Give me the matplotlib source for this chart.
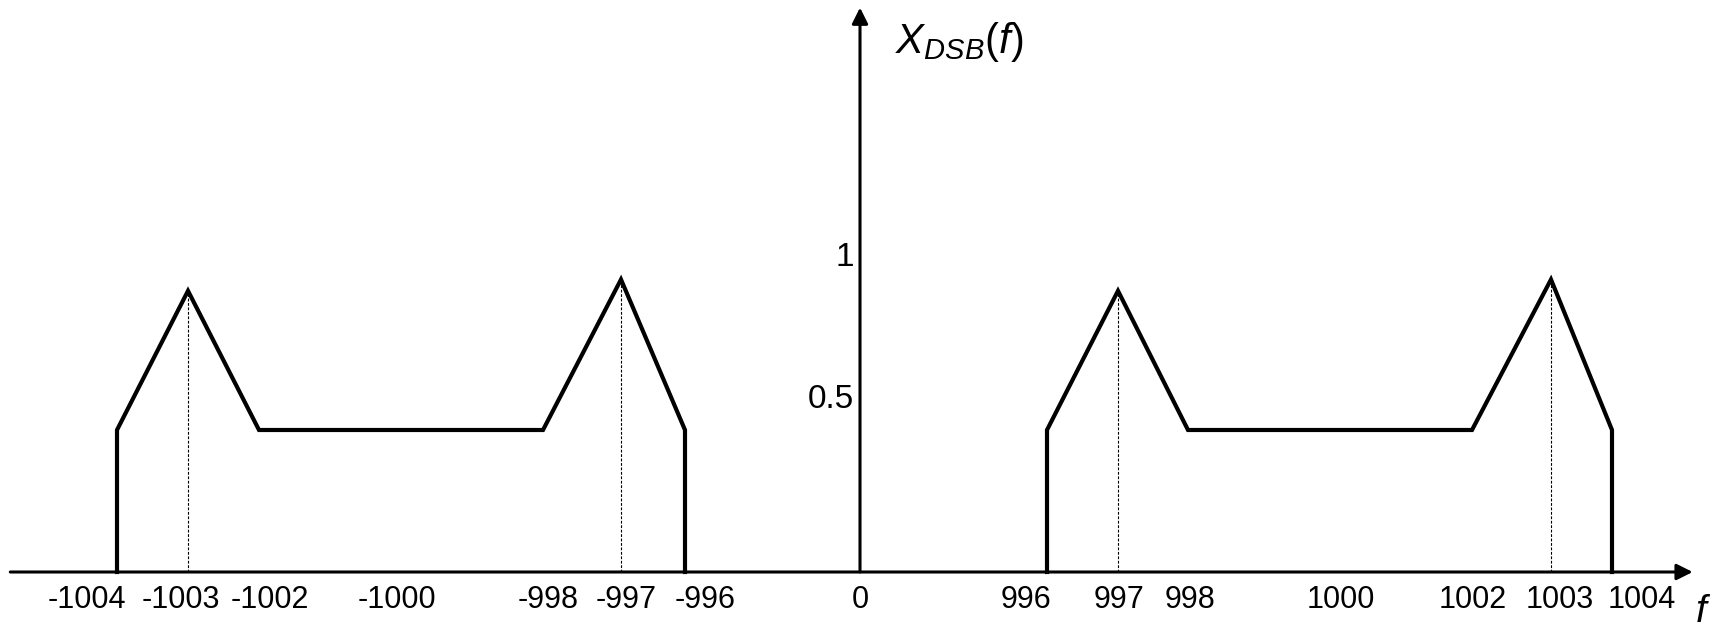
import numpy as np
import matplotlib
matplotlib.use("Agg")
import matplotlib.pyplot as plt

plt.rcParams['font.family'] = ['Liberation Sans', 'DejaVu Sans']
plt.rcParams['mathtext.fontset'] = 'custom'
plt.rcParams['mathtext.rm'] = 'Liberation Sans'
plt.rcParams['mathtext.it'] = 'Liberation Sans:italic'

# spectrum outline, negative side and positive side
f_neg = [-1004, -1004, -1003, -1002, -998, -997, -996, -996]
x_neg = [0, 0.5, 0.99, 0.5, 0.5, 1.03, 0.5, 0]
f_pos = [996, 996, 997, 998, 1002, 1003, 1004, 1004]
x_pos = [0, 0.5, 0.99, 0.5, 0.5, 1.03, 0.5, 0]

# dotted guide lines at the peaks
peak_f = [-1003, -997, 997, 1003]
peak_x = [0.99, 1.03, 0.99, 1.03]

x_ticks = [-1004, -1003, -1002, -1000, -998, -997, -996, 0,
           996, 997, 998, 1000, 1002, 1003, 1004]
x_tick_labels = ['-1004', '-1003', '-1002', '-1000', '-998', '-997', '-996', '0',
                 '996', '997', '998', '1000', '1002', '1003', '1004']
y_ticks = [0.5, 1]
y_tick_labels = ['0.5', '1']

# the frequency axis is broken: piecewise linear scale (knot -> pixel column)
knot_f = np.array([-1010, -1004, -1003, -1002, -998, -997, -996, 0,
                   996, 997, 998, 1002, 1003, 1004, 1010], dtype=float)
knot_px = np.array([-300, 117, 188, 259, 543, 621, 685, 860,
                    1047, 1118, 1188, 1472, 1551, 1612, 2000], dtype=float)


def fwd(f):
    return np.interp(f, knot_f, knot_px)


def inv(p):
    return np.interp(p, knot_px, knot_f)


# small nudges of the tick labels, in pixels
label_dx = [-30, -7, 11, -4, 5, 5, 20, 0, -21, 1, 2, 11, 1, 9, 30]

fig = plt.figure(figsize=(17.15, 6.33), dpi=100)
ax = fig.add_axes([0, 0, 1, 1])
ax.set_xscale('function', functions=(fwd, inv))
ax.set_xlim(inv(0), inv(1715))
ax.set_ylim(-61 / 284, 572 / 284)
ax.axis('off')

ax.plot(f_neg, x_neg, color='black', lw=3, solid_joinstyle='miter')
ax.plot(f_pos, x_pos, color='black', lw=3, solid_joinstyle='miter')
ax.vlines(peak_f, 0, peak_x, colors='black', lw=0.8, linestyles=(0, (2.5, 1.5)))

# axes with arrow heads
arw = dict(arrowstyle='-|>', mutation_scale=24, lw=2.2, color='black',
           shrinkA=0, shrinkB=0)
ax.annotate('', xy=(0.987, 0), xycoords=('axes fraction', 'data'),
            xytext=(0.006, 0), textcoords=('axes fraction', 'data'), arrowprops=arw)
ax.annotate('', xy=(0, 0.988), xycoords=('data', 'axes fraction'),
            xytext=(0, 0), textcoords='data', arrowprops=arw)

for f, lab, dx in zip(x_ticks, x_tick_labels, label_dx):
    ax.annotate(lab, xy=(f, 0), xytext=(dx, -28), textcoords='offset pixels',
                ha='center', va='center', fontsize=22)

for v, lab in zip(y_ticks, y_tick_labels):
    ax.annotate(lab, xy=(0, v), xytext=(-6, 30), textcoords='offset pixels',
                ha='right', va='center', fontsize=24)

ax.annotate(r'$X_{DSB}(f)$', xy=(0, 1), xycoords=('data', 'axes fraction'),
            xytext=(35, -42), textcoords='offset pixels',
            ha='left', va='center', fontsize=30)
ax.annotate('f', xy=(0.987, 0), xycoords=('axes fraction', 'data'),
            xytext=(8, -40), textcoords='offset pixels',
            ha='center', va='center', fontsize=28, style='italic')

fig.savefig('out.png', dpi=100)
